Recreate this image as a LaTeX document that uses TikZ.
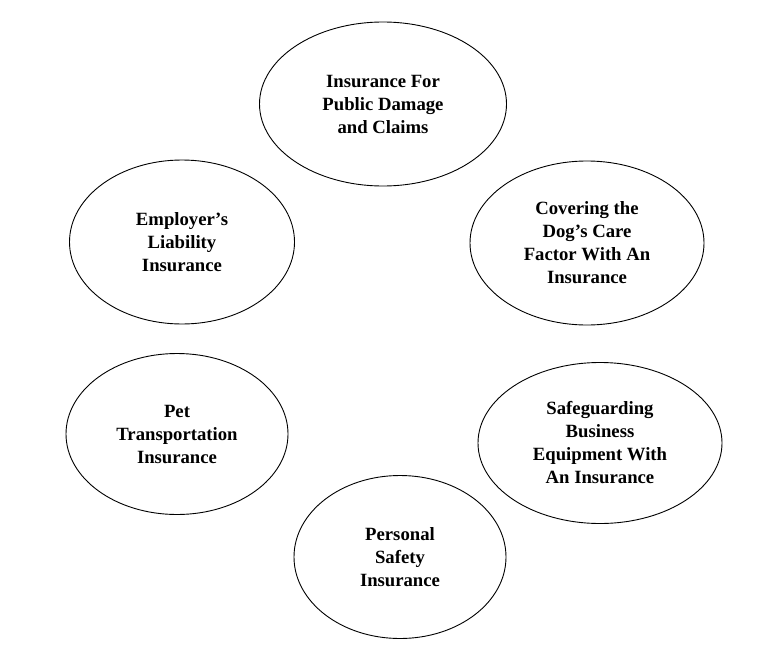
\documentclass[tikz,border=0pt]{standalone}
\usepackage{fontspec}
\setmainfont{Liberation Serif}
\usepackage{tikz}
\usetikzlibrary{shapes.geometric}

\begin{document}
\begin{tikzpicture}[
    x=1pt, y=-1pt,
    bubble/.style={ellipse, draw=black, line width=0.9pt, inner sep=0pt, align=center, font=\fontsize{18.7}{23}\selectfont\bfseries}
]
    \useasboundingbox (0,0) rectangle (781,661);

    % Top row
    \node[bubble, minimum width=247pt, minimum height=164pt] (pubdmg) at (383,104) {Insurance For\\Public Damage\\and Claims};

    % Upper pair
    \node[bubble, minimum width=225pt, minimum height=164pt] (employer) at (182,242) {Employer’s\\Liability\\Insurance};
    \node[bubble, minimum width=234pt, minimum height=164pt] (dogcare) at (587,243) {Covering the\\Dog’s Care\\Factor With An\\Insurance};

    % Lower pair
    \node[bubble, minimum width=222pt, minimum height=161pt] (pettrans) at (177,434) {Pet\\Transportation\\Insurance};
    \node[bubble, minimum width=244pt, minimum height=161pt] (equip) at (600,443) {Safeguarding\\Business\\Equipment With\\An Insurance};

    % Bottom
    \node[bubble, minimum width=212pt, minimum height=163pt] (safety) at (400,557) {Personal\\Safety\\Insurance};
\end{tikzpicture}
\end{document}
